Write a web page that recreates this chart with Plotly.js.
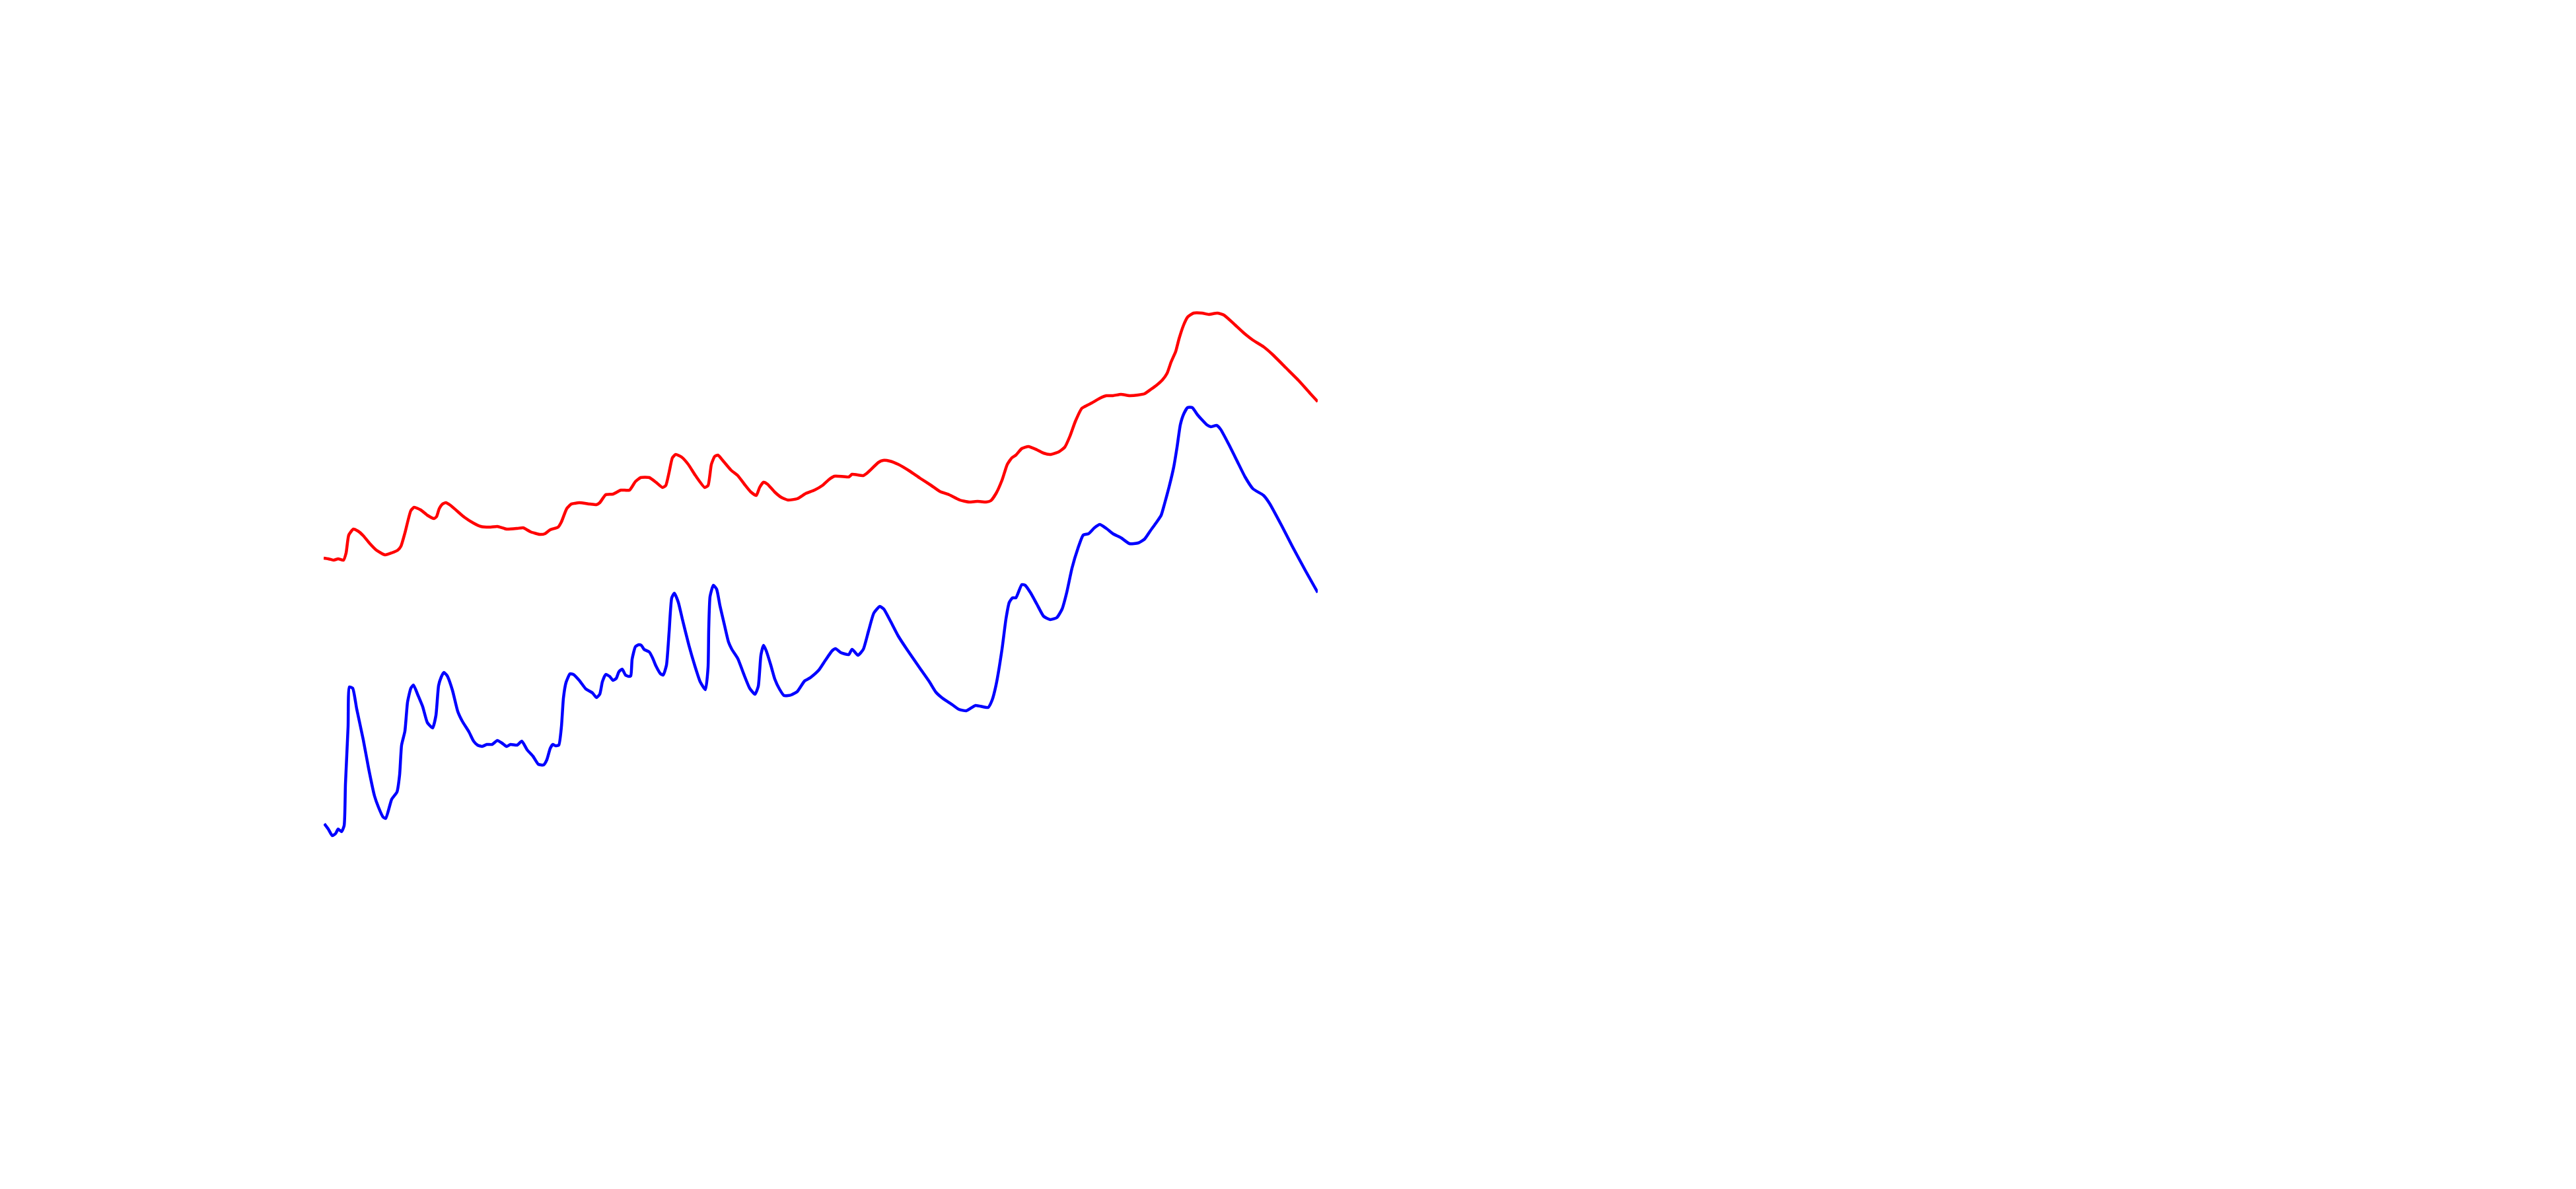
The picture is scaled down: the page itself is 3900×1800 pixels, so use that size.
<!DOCTYPE html>
<html>
<head>
<meta charset="utf-8">
<script src="https://cdn.plot.ly/plotly-3.0.1.min.js"></script>
<style>html,body{margin:0;padding:0;background:#fff;}#chart{width:3900px;height:1800px;}</style>
</head>
<body>
<div id="chart"></div>
<script>
// Red series
const redX = [0.0,0.7,1.5,2.2,3.0,3.4,3.8,4.5,5.2,6.0,7.0,8.0,9.3,10.3,11.2,11.7,12.3,13.2,13.7,14.7,15.7,16.7,17.1,17.5,18.0,18.5,19.2,20.7,21.3,22.7,23.8,25.3,26.3,27.7,29.3,30.2,31.3,32.7,33.5,34.3,35.5,36.0,36.8,37.5,38.0,38.7,40.3,41.3,41.8,42.7,43.8,45.0,46.3,47.2,48.0,49.3,50.3,51.3,51.8,52.3,52.8,53.3,54.2,55.2,56.3,57.7,58.2,58.7,59.2,59.7,60.5,61.7,62.7,63.7,64.7,65.5,66.0,66.6,67.2,68.3,69.3,70.3,71.7,73.0,74.3,75.5,76.5,77.3,78.0,79.5,80.0,81.7,82.3,84.0,84.7,85.7,87.0,88.7,90.3,92.0,93.3,94.7,96.3,97.7,99.0,100.3,101.0,101.8,102.7,103.5,104.2,104.8,105.7,106.7,108.0,109.0,110.0,111.3,112.2,113.0,113.8,114.8,115.7,116.3,117.5,118.5,119.5,120.7,122.0,123.3,124.3,125.3,126.0,127.0,127.7,128.3,129.0,129.5,130.2,130.8,131.7,133.0,134.0,135.3,136.3,138.0,139.3,140.7,142.3,143.7,145.7,147.7,149.3,150.5];
const redY = [45.5,45.4,45.2,45.4,45.2,46.3,49.0,49.9,49.6,48.9,47.7,46.7,46.0,46.3,46.7,47.3,49.3,52.7,53.2,52.8,52.0,51.5,51.8,53.0,53.7,53.9,53.5,52.2,51.7,50.8,50.3,50.2,50.3,49.9,50.0,50.1,49.5,49.1,49.2,49.8,50.2,51.0,53.0,53.7,53.8,53.9,53.7,53.6,53.9,55.1,55.2,55.8,55.8,57.1,57.7,57.7,57.0,56.2,56.5,58.5,60.7,61.2,60.8,59.7,58.0,56.2,56.5,59.7,60.9,61.1,60.2,58.8,58.0,56.7,55.5,55.0,56.2,57.0,56.7,55.5,54.7,54.3,54.5,55.3,55.8,56.5,57.4,57.9,57.9,57.8,58.2,58.0,58.4,60.0,60.3,60.2,59.7,58.7,57.6,56.5,55.6,55.1,54.3,54.0,54.1,54.0,54.2,55.3,57.3,59.7,60.7,61.1,62.1,62.4,61.9,61.4,61.2,61.6,62.3,64.0,66.2,68.2,68.7,69.0,69.7,70.1,70.1,70.3,70.1,70.2,70.4,71.1,71.6,72.5,73.5,75.2,76.8,78.7,80.8,82.0,82.6,82.6,82.4,82.6,82.3,80.8,79.6,78.5,77.5,76.3,74.3,72.3,70.5,69.2];

// Blue series
const blueX = [0.1,0.7,1.3,1.8,2.2,2.7,3.1,3.3,3.7,3.9,4.4,5.0,6.0,6.8,7.7,8.3,9.0,9.4,10.3,11.1,11.5,11.8,12.3,12.7,13.2,13.6,14.3,15.0,15.7,16.5,17.0,17.4,17.8,18.2,18.7,19.5,20.3,21.0,22.0,22.7,23.3,24.0,24.7,25.5,26.3,27.0,27.7,28.3,29.3,30.0,30.8,31.7,32.5,33.3,33.8,34.3,34.7,35.1,35.6,36.0,36.3,36.7,37.3,37.8,38.7,39.7,40.7,41.3,41.8,42.2,42.7,43.3,43.8,44.3,44.7,45.2,45.7,46.2,46.5,46.7,47.2,47.7,48.1,48.5,49.3,49.8,50.3,51.0,51.4,51.9,52.3,52.7,53.1,53.7,54.3,55.3,56.2,57.0,57.8,58.2,58.3,58.5,59.0,59.5,60.0,60.7,61.3,61.8,62.7,63.7,64.5,65.3,65.8,66.2,66.6,67.0,67.7,68.3,69.0,69.7,70.3,70.8,71.7,72.8,73.5,73.8,75.0,76.0,77.0,77.5,78.3,79.5,80.0,80.9,81.7,82.5,83.3,84.2,84.8,85.8,87.0,88.3,90.3,91.7,92.7,93.7,95.2,96.2,97.3,98.7,100.6,101.2,101.8,102.7,103.3,103.8,104.3,104.8,105.7,106.2,107.0,108.0,109.0,110.0,111.0,111.8,112.5,113.3,114.2,115.0,115.8,116.7,117.5,118.5,119.5,120.7,122.0,123.3,124.3,125.2,126.0,126.8,127.3,128.0,128.7,129.2,129.7,130.2,130.8,131.5,132.3,133.7,134.3,135.2,135.8,137.0,138.3,139.5,140.7,142.3,143.2,145.0,146.7,148.7,150.5];
const blueY = [5.3,4.5,3.5,3.8,4.5,4.1,5.0,11.3,20.0,26.0,25.8,22.7,18.0,13.7,9.5,7.8,6.3,6.1,9.0,10.1,12.7,17.2,19.3,23.7,25.8,26.3,24.7,23.0,20.6,19.8,21.7,26.2,27.5,28.2,27.7,25.5,22.3,20.8,19.2,17.8,17.2,17.0,17.3,17.3,17.9,17.5,17.0,17.3,17.2,17.8,16.5,15.5,14.3,14.2,15.0,16.7,17.3,17.1,17.2,20.0,24.3,26.7,28.0,27.9,27.0,25.7,25.1,24.4,24.9,26.8,27.9,27.6,27.0,27.3,28.3,28.7,27.8,27.6,27.7,30.2,32.1,32.4,32.3,31.7,31.3,30.4,29.2,28.0,27.8,29.3,34.3,39.5,40.2,38.8,36.3,32.3,29.2,26.8,25.6,29.0,34.7,39.7,41.4,40.8,38.3,35.3,32.8,31.7,30.3,27.7,25.8,24.9,26.1,30.8,32.3,31.5,29.3,27.2,25.7,24.7,24.7,24.8,25.3,26.9,27.3,27.5,28.6,30.1,31.5,31.8,31.2,30.9,31.7,30.8,31.7,34.5,37.2,38.2,37.8,36.0,33.7,31.7,28.8,26.8,25.2,24.3,23.3,22.6,22.4,23.2,22.9,24.0,26.3,31.7,36.3,38.8,39.5,39.5,41.5,41.4,40.3,38.5,36.7,36.2,36.5,37.8,40.3,44.0,47.0,49.0,49.2,50.1,50.6,50.0,49.2,48.6,47.7,47.8,48.4,49.7,50.8,52.0,53.7,56.3,59.3,62.3,65.7,67.3,68.3,68.3,67.2,65.7,65.4,65.6,65.0,62.8,60.2,57.8,56.0,55.0,53.8,50.5,47.2,43.5,40.3];

const xRange = [0, 150.5];
const yRange = [0, 100];

const traces = [
  {x: redX, y: redY, type: 'scatter', mode: 'lines', line: {color: '#ff0000', width: 4.5, shape: 'spline', smoothing: 0.5}, hoverinfo: 'skip'},
  {x: blueX, y: blueY, type: 'scatter', mode: 'lines', line: {color: '#0000ff', width: 4.5, shape: 'spline', smoothing: 0.5}, hoverinfo: 'skip'}
];

const layout = {
  width: 3900, height: 1800,
  margin: {l: 490, r: 1905, t: 300, b: 500, pad: 0},
  paper_bgcolor: '#ffffff', plot_bgcolor: '#ffffff',
  showlegend: false,
  xaxis: {range: xRange, visible: false, showgrid: false, zeroline: false, fixedrange: true},
  yaxis: {range: yRange, visible: false, showgrid: false, zeroline: false, fixedrange: true}
};

Plotly.newPlot('chart', traces, layout, {staticPlot: true, displayModeBar: false});
</script>
</body>
</html>
